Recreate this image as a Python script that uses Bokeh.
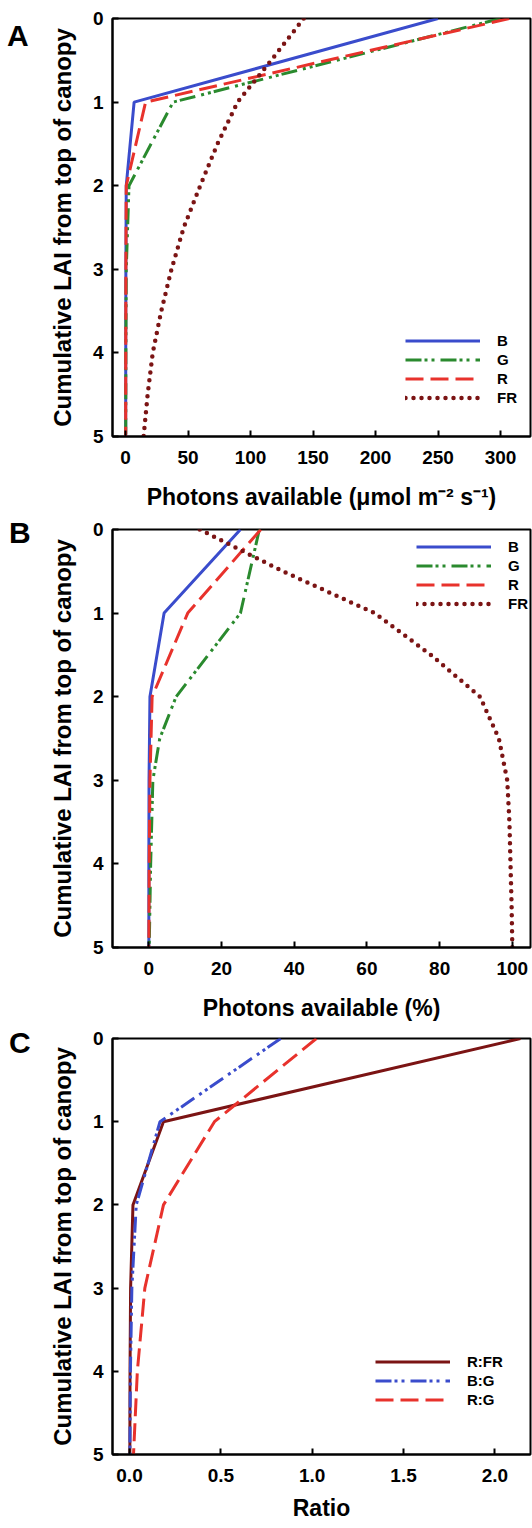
from bokeh.plotting import figure
from bokeh.models import Range1d, FixedTicker, Legend, LegendItem, Div
from bokeh.layouts import column, row
from bokeh.embed import file_html
from bokeh.resources import INLINE

# ---------------- data ----------------
lai = [0, 1, 2, 3, 4, 5]
lai_half = [0, 0.5, 1, 1.5, 2, 2.5, 3, 3.5, 4, 4.5, 5]
lai_g = [0, 1, 2, 2.5, 3, 4, 5]
lai_ticks = [0, 1, 2, 3, 4, 5]

# Panel A: photons available (umol m-2 s-1)
a_B = [250, 6.8, 0.5, 0.2, 0.1, 0.05]
a_G = [300, 38, 2.7, 0.5, 0.2, 0.1]
a_R = [307, 16, 0.5, 0.2, 0.1, 0.05]
a_FR = [142.5, 116.5, 89.6, 73.5, 59.7, 46.5, 36.7, 28.5, 21.7, 17.6, 14.4]
a_xticks = [0, 50, 100, 150, 200, 250, 300]
a_xlabels = ["0", "50", "100", "150", "200", "250", "300"]

# Panel B: photons available (%)
b_B = [25.2, 4.2, 0.3, 0.05, 0.0, 0.0]
b_G = [30.4, 25.2, 7.5, 3.0, 1.1, 0.5, 0.1]
b_R = [30.8, 10.7, 0.9, 0.3, 0.1, 0.0]
b_FR = [14, 36.9, 62.1, 77.6, 91.1, 96.3, 98.6, 99.2, 99.5, 99.8, 100]
b_xticks = [0, 20, 40, 60, 80, 100]
b_xlabels = ["0", "20", "40", "60", "80", "100"]

# Panel C: ratios
c_RFR = [2.14, 0.186, 0.019, 0.006, 0.003, 0.002]
c_BG = [0.828, 0.167, 0.037, 0.013, 0.005, 0.002]
c_RG = [1.023, 0.465, 0.186, 0.084, 0.043, 0.022]
c_xticks = [0.0, 0.5, 1.0, 1.5, 2.0]
c_xlabels = ["0.0", "0.5", "1.0", "1.5", "2.0"]

# ---------------- style ----------------
FONT = "Liberation Sans"
BLUE = "#3a4ccc"
GREEN = "#2a8a2e"
RED = "#e8322c"
MAROON = "#7b1414"
DASHDOT = "16 3 3 4 3 6"
DASH = "18 7"
DOT = "0 8"


def letter_div(letter, height, mtop, mleft):
    html = ('<div style="font-family: \'Liberation Sans\', Arial, sans-serif; font-weight: bold; '
            'font-size: 30px; line-height: 30px; color: black; margin-top: %dpx; margin-left: %dpx;">%s</div>'
            % (mtop, mleft, letter))
    return Div(text=html, width=30, height=height, margin=0)


def make_fig(xr, xticks, xlabels, xtitle, height, top, bottom, title_standoff):
    p = figure(width=502, height=height, x_range=Range1d(*xr), y_range=Range1d(5, 0),
               output_backend="svg", toolbar_location=None, title=None,
               min_border_left=82, min_border_right=2,
               min_border_top=top, min_border_bottom=bottom)
    p.grid.visible = False
    p.outline_line_color = "black"
    p.outline_line_width = 2
    p.background_fill_color = "white"
    p.border_fill_color = "white"
    p.xaxis.ticker = FixedTicker(ticks=xticks)
    p.xaxis.major_label_overrides = {t: l for t, l in zip(xticks, xlabels)}
    p.yaxis.ticker = FixedTicker(ticks=lai_ticks)
    for ax in (p.xaxis[0], p.yaxis[0]):
        ax.major_tick_in = 6
        ax.major_tick_out = 0
        ax.minor_tick_in = 0
        ax.minor_tick_out = 0
        ax.major_tick_line_width = 2
        ax.major_tick_line_color = "black"
        ax.axis_line_width = 2
        ax.axis_line_color = "black"
        ax.major_label_text_font = FONT
        ax.major_label_text_font_style = "bold"
        ax.major_label_text_font_size = "19px"
        ax.major_label_text_color = "black"
        ax.axis_label_text_font = FONT
        ax.axis_label_text_font_style = "bold"
        ax.axis_label_text_font_size = "23px"
        ax.axis_label_text_color = "black"
    p.yaxis.axis_label_text_font_size = "24px"
    p.xaxis.axis_label = xtitle
    p.xaxis.major_label_standoff = 14
    p.xaxis.axis_label_standoff = title_standoff
    p.yaxis.axis_label = "Cumulative LAI from top of canopy"
    p.yaxis.major_label_standoff = 9
    p.yaxis.axis_label_standoff = 14
    return p


def style_legend(items, loc):
    lg = Legend(items=items, location=loc)
    lg.background_fill_alpha = 0
    lg.border_line_alpha = 0
    lg.padding = 0
    lg.margin = 0
    lg.spacing = 0
    lg.glyph_width = 75
    lg.glyph_height = 19
    lg.label_height = 19
    lg.label_standoff = 17
    lg.label_text_font = FONT
    lg.label_text_font_style = "bold"
    lg.label_text_font_size = "15px"
    lg.label_text_color = "black"
    return lg


# Panel A  (frame 112..530 x 18..436)
pa = make_fig((-10.5, 324), a_xticks, a_xlabels, "Photons available (\u03bcmol m\u207b\u00b2 s\u207b\u00b9)",
              518, 18, 82, 17)
ra1 = pa.line(a_B, lai, line_color=BLUE, line_width=3)
ra2 = pa.line(a_G, lai, line_color=GREEN, line_width=3, line_dash=DASHDOT)
ra3 = pa.line(a_R, lai, line_color=RED, line_width=3, line_dash=DASH)
ra4 = pa.line(a_FR, lai_half, line_color=MAROON, line_width=4.5, line_dash=DOT, line_cap="round")
pa.add_layout(style_legend([LegendItem(label="B", renderers=[ra1]),
                            LegendItem(label="G", renderers=[ra2]),
                            LegendItem(label="R", renderers=[ra3]),
                            LegendItem(label="FR", renderers=[ra4])], (293, 29)))

# Panel B  (frame 112..530 x 529..947)
pb = make_fig((-10, 105), b_xticks, b_xlabels, "Photons available (%)",
              510, 11, 81, 17)
rb1 = pb.line(b_B, lai, line_color=BLUE, line_width=3)
rb2 = pb.line(b_G, lai_g, line_color=GREEN, line_width=3, line_dash=DASHDOT)
rb3 = pb.line(b_R, lai, line_color=RED, line_width=3, line_dash=DASH)
rb4 = pb.line(b_FR, lai_half, line_color=MAROON, line_width=4.5, line_dash=DOT, line_cap="round")
pb.add_layout(style_legend([LegendItem(label="B", renderers=[rb1]),
                            LegendItem(label="G", renderers=[rb2]),
                            LegendItem(label="R", renderers=[rb3]),
                            LegendItem(label="FR", renderers=[rb4])], (304, 334)))

# Panel C  (frame 112..530 x 1038..1454)
pc = make_fig((-0.093, 2.195), c_xticks, c_xlabels, "Ratio",
              500, 10, 74, 10)
rc1 = pc.line(c_RFR, lai, line_color=MAROON, line_width=3)
rc2 = pc.line(c_BG, lai, line_color=BLUE, line_width=3, line_dash=DASHDOT)
rc3 = pc.line(c_RG, lai, line_color=RED, line_width=3, line_dash=DASH)
pc.add_layout(style_legend([LegendItem(label="R:FR", renderers=[rc1]),
                            LegendItem(label="B:G", renderers=[rc2]),
                            LegendItem(label="R:G", renderers=[rc3])], (263, 45)))

layout = column(
    row(letter_div("A", 518, 21, 7), pa, spacing=0),
    row(letter_div("B", 510, 0, 9), pb, spacing=0),
    row(letter_div("C", 500, 0, 9), pc, spacing=0),
    spacing=0,
)
open("out.html", "w").write(file_html(layout, INLINE))
